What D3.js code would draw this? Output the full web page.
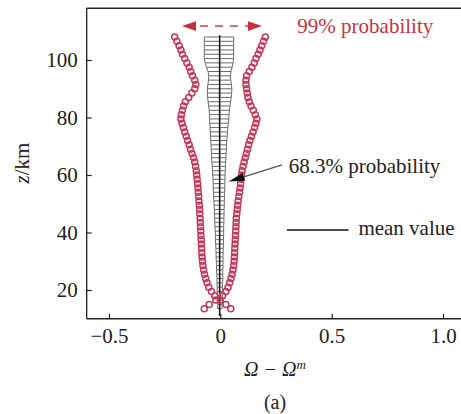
<!DOCTYPE html>
<html><head><meta charset="utf-8">
<script src="https://cdn.jsdelivr.net/npm/d3@7"></script>
<style>
body{margin:0;background:#fff}
svg{display:block}
text{font-family:"Liberation Serif","Times New Roman",serif;fill:#222}
</style>
</head><body>
<svg id="c" width="461" height="414"></svg>
<script>
// ---------- data ----------
const zLevels = [13.5,15,16.5,18,19.5,21,22.5,24,25.5,27,28.5,30,31.5,33,34.5,36,37.5,39,40.5,42,43.5,45,46.5,48,49.5,51,52.5,54,55.5,57,58.5,60,61.5,63,64.5,66,67.5,69,70.5,72,73.5,75,76.5,78,79.5,81,82.5,84,85.5,87,88.5,90,91.5,93,94.5,96,97.5,99,100.5,102,103.5,105,106.5,108];
// 99% probability bounds (circles)
const bound99Left = [0.047,0.025,0.000,-0.025,-0.040,-0.052,-0.060,-0.066,-0.071,-0.075,-0.078,-0.080,-0.082,-0.083,-0.084,-0.085,-0.086,-0.087,-0.088,-0.089,-0.090,-0.091,-0.092,-0.093,-0.094,-0.096,-0.097,-0.099,-0.100,-0.102,-0.104,-0.106,-0.108,-0.111,-0.115,-0.120,-0.127,-0.134,-0.140,-0.147,-0.153,-0.160,-0.166,-0.172,-0.177,-0.175,-0.170,-0.165,-0.157,-0.142,-0.128,-0.115,-0.110,-0.115,-0.125,-0.133,-0.140,-0.150,-0.160,-0.170,-0.177,-0.185,-0.195,-0.205];
const bound99Right = [-0.072,-0.050,-0.020,0.010,0.025,0.035,0.042,0.048,0.053,0.057,0.060,0.062,0.063,0.064,0.065,0.066,0.067,0.068,0.069,0.070,0.071,0.072,0.074,0.076,0.078,0.080,0.083,0.086,0.089,0.091,0.093,0.095,0.098,0.102,0.107,0.112,0.117,0.122,0.127,0.133,0.140,0.147,0.154,0.160,0.164,0.157,0.148,0.138,0.130,0.124,0.121,0.118,0.115,0.115,0.118,0.130,0.142,0.152,0.160,0.170,0.178,0.186,0.194,0.202];
// 68.3% probability bars
const bar68Low = [-0.012,-0.012,-0.013,-0.013,-0.014,-0.014,-0.015,-0.015,-0.016,-0.017,-0.017,-0.018,-0.019,-0.019,-0.020,-0.021,-0.022,-0.022,-0.023,-0.024,-0.025,-0.025,-0.026,-0.027,-0.028,-0.029,-0.030,-0.031,-0.032,-0.032,-0.033,-0.034,-0.035,-0.036,-0.038,-0.039,-0.040,-0.041,-0.042,-0.043,-0.044,-0.045,-0.046,-0.047,-0.048,-0.049,-0.050,-0.052,-0.055,-0.057,-0.058,-0.058,-0.056,-0.053,-0.052,-0.055,-0.062,-0.068,-0.072,-0.072,-0.072,-0.072,-0.072,-0.072];
const bar68High = [0.008,0.008,0.009,0.009,0.010,0.010,0.010,0.011,0.011,0.011,0.012,0.012,0.012,0.013,0.013,0.014,0.014,0.015,0.015,0.015,0.016,0.016,0.017,0.017,0.018,0.018,0.019,0.019,0.020,0.020,0.021,0.021,0.022,0.023,0.024,0.025,0.026,0.027,0.028,0.029,0.031,0.032,0.034,0.036,0.038,0.039,0.041,0.043,0.046,0.049,0.051,0.052,0.050,0.047,0.045,0.048,0.053,0.057,0.060,0.060,0.060,0.060,0.060,0.060];
// mean value line
const meanZ = [11, 108.6];
const meanX = [-0.003, -0.003];
// tick values / labels
const xTicks = [-0.5, 0, 0.5, 1.0];
const xTickLabels = ["\u22120.5", "0", "0.5", "1.0"];
const yTicks = [20, 40, 60, 80, 100];
// 99% arrow extent (data units)
const arrow99 = {left: -0.172, right: 0.187, z: 111.8};

// ---------- layout ----------
const svg = d3.select("#c");
const x = d3.scaleLinear().domain([-0.6, 1.1]).range([86.7, 86.7 + 1.7 * 222.7]);
const y = d3.scaleLinear().domain([10, 118]).range([318.75, 8.25]);
const X0 = x.range()[0], Y0 = y.range()[0], YT = y.range()[1];

// frame: top line
svg.append("line").attr("x1", X0).attr("x2", 461).attr("y1", YT).attr("y2", YT)
  .attr("stroke", "#222").attr("stroke-width", 1.3);

// axes
const xAxis = d3.axisBottom(x).tickValues(xTicks).tickSize(-5).tickSizeOuter(0).tickPadding(9)
  .tickFormat((d, i) => xTickLabels[i]);
const gx = svg.append("g").attr("transform", `translate(0,${Y0})`).call(xAxis);
gx.select(".domain").remove();
gx.selectAll("line").attr("stroke", "#222").attr("stroke-width", 1.2);
gx.selectAll("text").attr("font-size", 21).attr("font-family", "Liberation Serif").attr("fill", "#222");
svg.append("line").attr("x1", X0).attr("x2", 461).attr("y1", Y0).attr("y2", Y0)
  .attr("stroke", "#222").attr("stroke-width", 1.3);

const yAxis = d3.axisLeft(y).tickValues(yTicks).tickSize(-5).tickSizeOuter(0).tickPadding(9);
const gy = svg.append("g").attr("transform", `translate(${X0},0)`).call(yAxis);
gy.select(".domain").remove();
gy.selectAll("line").attr("stroke", "#222").attr("stroke-width", 1.2);
gy.selectAll("text").attr("font-size", 21).attr("font-family", "Liberation Serif").attr("fill", "#222");
svg.append("line").attr("x1", X0).attr("x2", X0).attr("y1", YT).attr("y2", Y0)
  .attr("stroke", "#222").attr("stroke-width", 1.3);

// ---------- 68.3% bars ----------
const bars = zLevels.map((z, i) => ({z, lo: bar68Low[i], hi: bar68High[i]}));
const gb = svg.append("g");
gb.selectAll("line.bar").data(bars).join("line").attr("class", "bar")
  .attr("x1", d => x(d.lo)).attr("x2", d => x(d.hi))
  .attr("y1", d => y(d.z)).attr("y2", d => y(d.z))
  .attr("stroke", "#6a6a6a").attr("stroke-width", 1);
const railLo = d3.line().x(d => x(d.lo)).y(d => y(d.z));
const railHi = d3.line().x(d => x(d.hi)).y(d => y(d.z));
gb.append("path").attr("d", railLo(bars)).attr("fill", "none").attr("stroke", "#6a6a6a").attr("stroke-width", 1);
gb.append("path").attr("d", railHi(bars)).attr("fill", "none").attr("stroke", "#6a6a6a").attr("stroke-width", 1);

// mean line
svg.append("path")
  .attr("d", d3.line().x(d => x(d[0])).y(d => y(d[1]))(meanX.map((v, i) => [v, meanZ[i]])))
  .attr("stroke", "#1a1a1a").attr("stroke-width", 1.6).attr("fill", "none");

// ---------- 99% circles ----------
const circColor = "#c2375a";
const pts = zLevels.flatMap((z, i) => [{z, v: bound99Left[i]}, {z, v: bound99Right[i]}]);
svg.append("g").selectAll("circle").data(pts).join("circle")
  .attr("cx", d => x(d.v)).attr("cy", d => y(d.z)).attr("r", 3)
  .attr("fill", "none").attr("stroke", circColor).attr("stroke-width", 1.5);

// ---------- 99% arrow ----------
const red = "#c9303f";
const ay = y(arrow99.z), axL = x(arrow99.left), axR = x(arrow99.right);
const hl = 14, hw = 4.8;
svg.append("line").attr("x1", axL + hl).attr("x2", axR - hl).attr("y1", ay).attr("y2", ay)
  .attr("stroke", "#d8707c").attr("stroke-width", 2).attr("stroke-dasharray", "8,7").attr("stroke-dashoffset", -4);
svg.append("path").attr("d", `M${axL},${ay} L${axL + hl},${ay - hw} L${axL + hl},${ay + hw} Z`).attr("fill", red);
svg.append("path").attr("d", `M${axR},${ay} L${axR - hl},${ay - hw} L${axR - hl},${ay + hw} Z`).attr("fill", red);
svg.append("text").attr("x", x(0.346)).attr("y", y(109.4)).attr("font-size", 21)
  .style("fill", red).text("99% probability");

// ---------- 68.3% annotation ----------
const a0 = [x(0.277), y(63.5)], a1 = [x(0.037), y(57.7)];
const dx = a1[0] - a0[0], dy = a1[1] - a0[1], len = Math.hypot(dx, dy);
const ux = dx / len, uy = dy / len, hL = 16, hW = 4;
const bx = a1[0] - ux * hL, by = a1[1] - uy * hL;
svg.append("line").attr("x1", a0[0]).attr("y1", a0[1]).attr("x2", bx).attr("y2", by)
  .attr("stroke", "#555").attr("stroke-width", 1.2);
svg.append("path")
  .attr("d", `M${a1[0]},${a1[1]} L${bx - uy * hW},${by + ux * hW} L${bx + uy * hW},${by - ux * hW} Z`)
  .attr("fill", "#111");
svg.append("text").attr("x", x(0.307)).attr("y", y(60.7)).attr("font-size", 21).text("68.3% probability");

// ---------- mean legend ----------
svg.append("line").attr("x1", x(0.2995)).attr("x2", x(0.576)).attr("y1", y(40.87)).attr("y2", y(40.87))
  .attr("stroke", "#111").attr("stroke-width", 1.4);
svg.append("text").attr("x", x(0.62)).attr("y", y(39.1)).attr("font-size", 21).text("mean value");

// ---------- axis titles ----------
const xl = svg.append("text").attr("x", 275).attr("y", 376).attr("text-anchor", "middle")
  .attr("font-size", 20).attr("font-style", "italic");
xl.append("tspan").text("\u03A9 \u2212 \u03A9");
xl.append("tspan").attr("dy", -7).attr("font-size", 13).text("m");

svg.append("text").attr("x", 275).attr("y", 409).attr("text-anchor", "middle").attr("font-size", 20).text("(a)");

const yl = svg.append("text").attr("transform", "translate(29,163) rotate(-90)")
  .attr("text-anchor", "middle").attr("font-size", 21);
yl.append("tspan").attr("font-style", "italic").text("z");
yl.append("tspan").text("/km");
</script>
</body></html>
